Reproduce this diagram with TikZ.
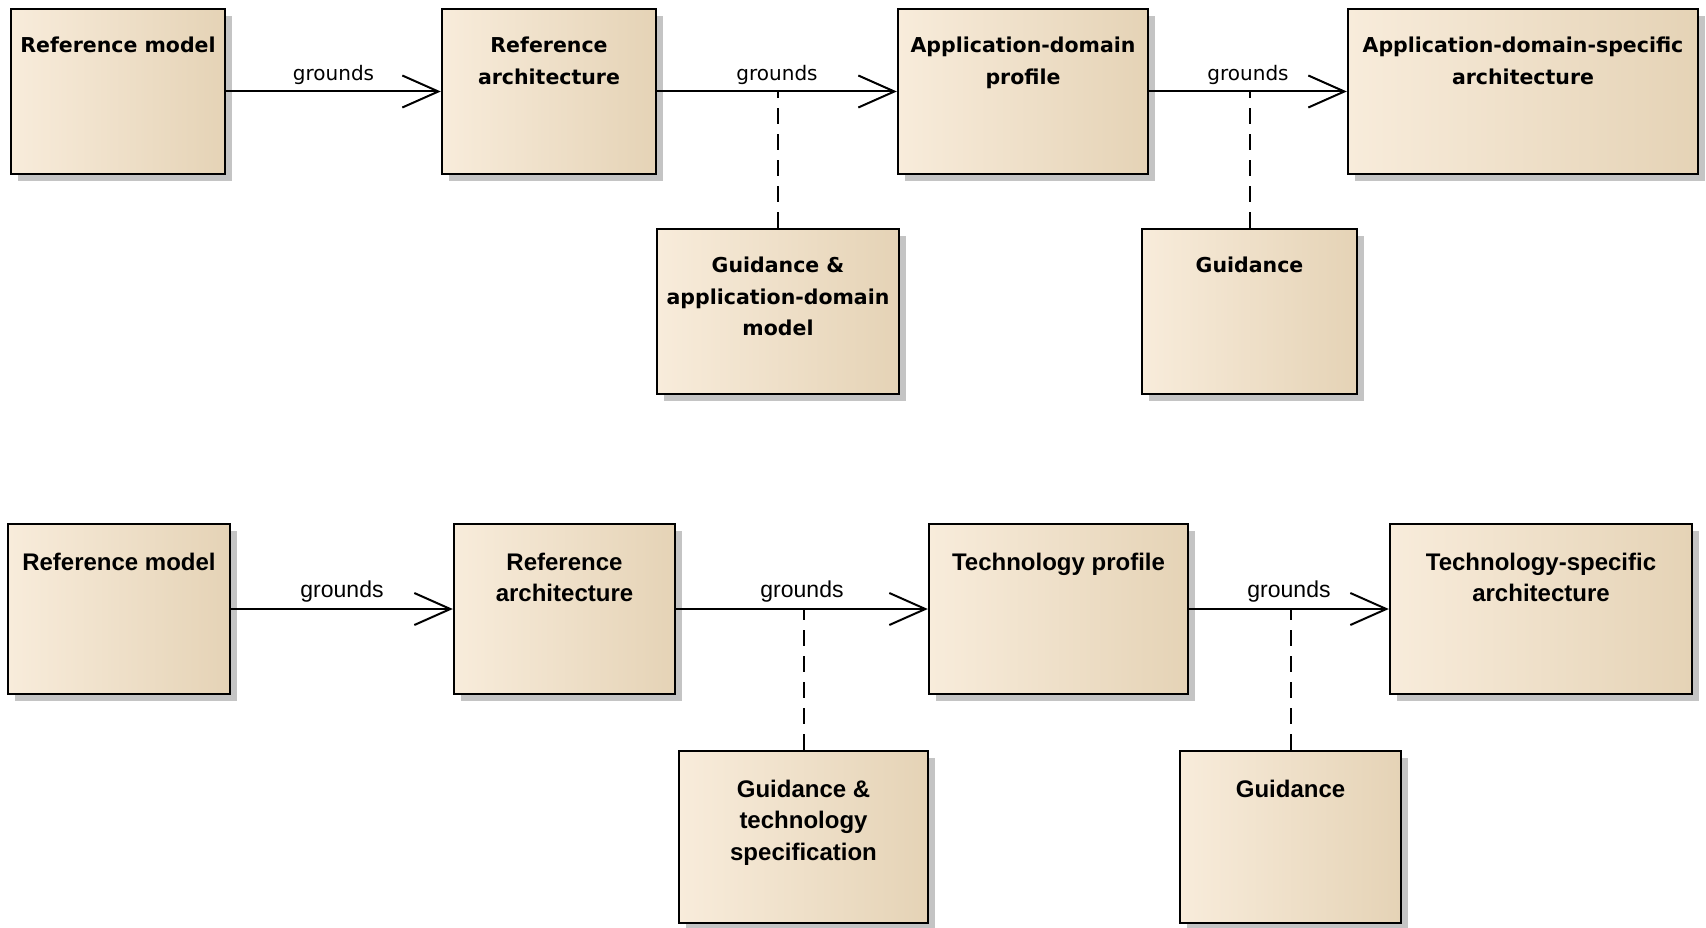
\documentclass[tikz,border=0pt]{standalone}
\usepackage{fontspec}
\newfontfamily\topfont{DejaVu Sans}
\newfontfamily\botfont{Liberation Sans}
\usetikzlibrary{arrows.meta,shadows}
\definecolor{boxleft}{HTML}{F8ECDB}
\definecolor{boxmid}{HTML}{FBF2E6}
\definecolor{boxright}{HTML}{E5D3B6}
\definecolor{shadowgray}{HTML}{C4C4C4}

\begin{document}
\begin{tikzpicture}
[x=1pt,y=-1pt,
  boxdecorate/.style={draw,line width=2.4pt,left color=boxleft,middle color=boxmid,right color=boxright,%
    drop shadow={shadow xshift=7pt,shadow yshift=-7pt,fill=shadowgray,opacity=1}},
  toptext/.style={anchor=north,inner sep=0pt,align=center,font=\topfont\bfseries\fontsize{20.5}{31.5}\selectfont},
  bottext/.style={anchor=north,inner sep=0pt,align=center,font=\botfont\bfseries\fontsize{24}{31.5}\selectfont},
  toplabel/.style={above=6pt,inner sep=0pt,font=\topfont\fontsize{20}{24}\selectfont},
  botlabel/.style={above=6pt,inner sep=0pt,font=\botfont\fontsize{23}{26}\selectfont},
  arrowdecorate/.style={-{Straight Barb[length=36pt,width=32pt]},line width=2pt},
  notedecorate/.style={line width=2pt,dash pattern=on 16pt off 10pt}]
\useasboundingbox (0,0) rectangle (1706,928);
%% upper diagram: boxes
\foreach \nodename/\xl/\yt/\xr/\yb/\txt in {rma/11/9/225/174/Reference model,
  raa/442/9/656/174/{Reference\\architecture}, adp/898/9/1148/174/{Application-domain\\profile},
  ada/1348/9/1698/174/{Application-domain-specific\\architecture},
  gda/657/229/899/394/{Guidance \&\\application-domain\\model}, gua/1142/229/1357/394/Guidance}
{
  \node[boxdecorate,minimum width={(\xr-\xl)*1pt},minimum height={(\yb-\yt)*1pt}] (\nodename) at ({(\xl+\xr)/2},{(\yt+\yb)/2}) {};
  \node[toptext] (\nodename-text) at ([yshift=-29pt]\nodename.north) {\txt};
}
%% upper diagram: connectors
\path
\foreach \startnode/\endnode/\midname in {rma/raa/ma, raa/adp/mb, adp/ada/mc}
{
  (\startnode) edge[arrowdecorate] node[toplabel]{grounds} node[coordinate] (\midname) {} (\endnode)
};
\foreach \guide/\midname in {gda/mb, gua/mc}
  \draw[notedecorate] (\guide.north) -- (\guide.north |- \midname);
%% lower diagram: boxes
\foreach \nodename/\xl/\yt/\xr/\yb/\txt in {rmb/8/524/230/694/Reference model,
  rab/454/524/675/694/{Reference\\architecture}, tpb/929/524/1188/694/Technology profile,
  tsb/1390/524/1692/694/{Technology-specific\\architecture},
  gtb/679/751/928/923/{Guidance \&\\technology\\specification}, gub/1180/751/1401/923/Guidance}
{
  \node[boxdecorate,minimum width={(\xr-\xl)*1pt},minimum height={(\yb-\yt)*1pt}] (\nodename) at ({(\xl+\xr)/2},{(\yt+\yb)/2}) {};
  \node[bottext] (\nodename-text) at ([yshift=-30pt]\nodename.north) {\txt};
}
%% lower diagram: connectors
\path
\foreach \startnode/\endnode/\midname in {rmb/rab/md, rab/tpb/me, tpb/tsb/mf}
{
  (\startnode) edge[arrowdecorate] node[botlabel]{grounds} node[coordinate] (\midname) {} (\endnode)
};
\foreach \guide/\midname in {gtb/me, gub/mf}
  \draw[notedecorate] (\guide.north) -- (\guide.north |- \midname);
\end{tikzpicture}
\end{document}
